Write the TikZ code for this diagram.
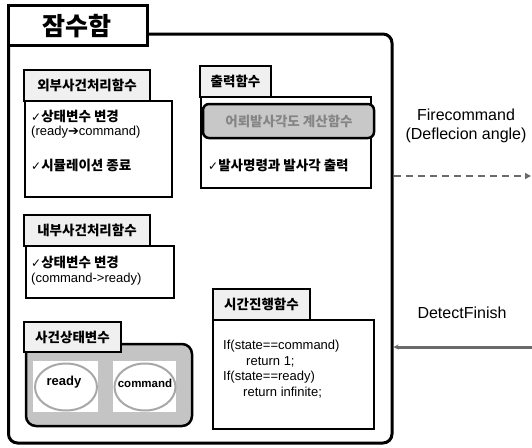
\documentclass[tikz,border=0pt]{standalone}
\usepackage{fontspec}
\setmainfont{Liberation Sans}
\newfontfamily\kr{Noto Sans CJK KR}
\newfontfamily\sym{DejaVu Sans}
\usetikzlibrary{arrows.meta,fit,shapes.geometric}
\definecolor{hdrfill}{HTML}{F0F0F0}
\definecolor{grpfill}{HTML}{C4C4C4}
\definecolor{calcfill}{HTML}{C8C8C8}
\definecolor{calctext}{HTML}{858585}
\definecolor{arrowgray}{HTML}{6A6A6A}
\definecolor{ellgray}{HTML}{A8A8A8}
\tikzset{
  mainbox/.style={draw, line width=3pt, rounded corners=9pt, inner sep=0pt},
  titlebox/.style={draw, fill=white, line width=3pt, inner sep=0pt},
  hdrbox/.style={draw, fill=hdrfill, line width=2.5pt, inner sep=0pt},
  hdrtext/.style={inner sep=0pt, font=\kr\bfseries\fontsize{13.5}{16}\selectfont},
  bodybox/.style={draw, fill=white, line width=2.5pt, inner sep=0pt},
  grpbox/.style={draw, fill=grpfill, line width=2.5pt, rounded corners=10pt, inner sep=0pt},
  calcbox/.style={draw, fill=calcfill, line width=2.5pt, rounded corners=6pt, inner sep=0pt},
  calctxt/.style={inner sep=0pt, text=calctext, font=\kr\bfseries\fontsize{13.5}{16}\selectfont},
  whitebg/.style={fill=white, inner sep=0pt},
  stateell/.style={ellipse, draw=ellgray, fill=white, line width=2pt, inner sep=0pt},
  krtext/.style={anchor=west, inner sep=0pt, font=\kr\bfseries\fontsize{13.5}{16}\selectfont},
  entext/.style={anchor=west, inner sep=0pt, font=\fontsize{13}{15}\selectfont},
  codetext/.style={anchor=west, inner sep=0pt, font=\fontsize{13}{15}\selectfont},
  msgtext/.style={inner sep=0pt, font=\fontsize{16}{19}\selectfont},
  dashedmsg/.style={draw=arrowgray, line width=1.8pt, dash pattern=on 7pt off 5pt, -{Triangle[length=6pt,width=6pt]}},
  solidmsg/.style={draw=arrowgray, line width=3pt, -{Stealth[length=5pt,width=5pt]}}
}
\newcommand{\chk}{{\sym\fontsize{12}{13}\selectfont ✓}}
\begin{document}
\begin{tikzpicture}[x=1pt,y=-1pt]
\useasboundingbox (0,0) rectangle (532,447);
% main container
\node[mainbox, fit={(8.5,34) (392,443)}] (main) {};
\node[titlebox, fit={(8.5,5) (147,45)}] (title) {};
\node[inner sep=0pt, font=\kr\bfseries\fontsize{25}{28}\selectfont] (titletxt) at (77,26) {잠수함};

% external event function
\node[bodybox, fit={(25,101) (172,197)}] (extbody) {};
\node[hdrbox, fit={(24,70) (150,101)}] (exthdr) {};
\node[hdrtext] (exthdrtxt) at (exthdr.center) {외부사건처리함수};
\node[krtext] (ext1) at (31,116) {\chk 상태변수 변경};
\node[entext] (ext2) at (31,132) {(ready{\sym➔}command)};
\node[krtext] (ext3) at (31,165) {\chk 시뮬레이션 종료};

% internal event function
\node[bodybox, fit={(26,246) (174,298)}] (intbody) {};
\node[hdrbox, fit={(24,215) (150,246)}] (inthdr) {};
\node[hdrtext] (inthdrtxt) at (inthdr.center) {내부사건처리함수};
\node[krtext] (int1) at (31,262) {\chk 상태변수 변경};
\node[entext] (int2) at (31,279) {(command->ready)};

% state variables
\node[grpbox, fit={(26,344) (192,426)}] (grp) {};
\node[hdrbox, fit={(24,322) (121,352)}] (grphdr) {};
\node[hdrtext] (grphdrtxt) at (grphdr.center) {사건상태변수};
\node[whitebg, fit={(33,361) (98,412)}] (readybg) {};
\node[whitebg, fit={(113,361) (176,412)}] (cmdbg) {};
\node[stateell, minimum width=62pt, minimum height=47pt] (ready) at (66,387) {};
\node[stateell, minimum width=61pt, minimum height=47pt] (command) at (145,387) {};
\node[inner sep=0pt, font=\bfseries\fontsize{13}{15}\selectfont] (readylbl) at (64,382) {ready};
\node[inner sep=0pt, font=\bfseries\fontsize{11.5}{14}\selectfont] (cmdlbl) at (145,383) {command};

% output function
\node[bodybox, fit={(201,97) (371,188)}] (outbody) {};
\node[hdrbox, fit={(200,66) (271,97)}] (outhdr) {};
\node[hdrtext] (outhdrtxt) at (outhdr.center) {출력함수};
\node[calcbox, fit={(203,104) (374,138)}] (calc) {};
\node[calctxt] (calctxtnode) at (289,121) {어뢰발사각도 계산함수};
\node[krtext] (out1) at (208,165) {\chk 발사명령과 발사각 출력};

% time advance function
\node[bodybox, fit={(213,320) (374,429)}] (tabody) {};
\node[hdrbox, fit={(213,289) (310,320)}] (tahdr) {};
\node[hdrtext] (tahdrtxt) at (tahdr.center) {시간진행함수};
\node[codetext] (c1) at (223,346) {If(state==command)};
\node[codetext] (c2) at (246,362) {return 1;};
\node[codetext] (c3) at (223,377) {If(state==ready)};
\node[codetext] (c4) at (243,393) {return infinite;};

% messages
\node[msgtext] (firelbl) at (466,115) {Firecommand};
\node[msgtext] (firelbl2) at (466,135) {(Deflecion angle)};
\coordinate (fireEnd) at (531,176);
\draw[dashedmsg] (main.east |- fireEnd) -- (fireEnd);

\node[msgtext] (detlbl) at (462,313) {DetectFinish};
\coordinate (detStart) at (532,347);
\draw[solidmsg] (detStart) -- (main.east |- detStart);
\end{tikzpicture}
\end{document}
